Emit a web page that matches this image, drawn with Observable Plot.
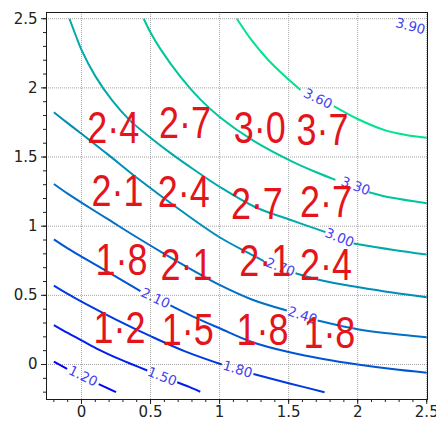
<!DOCTYPE html>
<html><head><meta charset="utf-8">
<script src="https://cdn.jsdelivr.net/npm/d3@7"></script>
<script src="https://cdn.jsdelivr.net/npm/@observablehq/plot@0.6"></script>
<style>body{margin:0;background:#fff}#chart{width:436px;height:423px}</style>
</head><body><div id="chart"></div>
<script>
// ---- data ----
const levels = [1.2, 1.5, 1.8, 2.1, 2.4, 2.7, 3.0, 3.3, 3.6, 3.9];
const levelText = ["1.20","1.50","1.80","2.10","2.40","2.70","3.00","3.30","3.60","3.90"];
// contour paths [x, y]; null = gap where the inline label sits
const c120 = [[-0.2,0.02],[-0.104,-0.031],null,[0.125,-0.142],[0.25,-0.2]];
const c150 = [[-0.2,0.285],[-0.1,0.228],[0,0.175],[0.125,0.108],[0.25,0.05],[0.37,0.0],[0.476,-0.043],null,[0.693,-0.128],[0.78,-0.162],[0.86,-0.197]];
const c180 = [[-0.2,0.57],[-0.1,0.51],[0,0.455],[0.25,0.325],[0.5,0.205],[0.75,0.095],[1.016,0.0],null,[1.245,-0.068],[1.5,-0.135],[1.76,-0.2]];
const c210 = [[-0.2,0.905],[-0.1,0.84],[0,0.78],[0.2,0.665],[0.427,0.53],null,[0.644,0.427],[0.8,0.35],[1.0,0.262],[1.233,0.163],[1.5,0.09],[1.75,0.04],[2.0,0.0],[2.25,-0.033],[2.5,-0.06]];
const c240 = [[-0.2,1.305],[-0.1,1.235],[0,1.17],[0.2,1.045],[0.4,0.92],[0.6,0.8],[0.8,0.685],[1.0,0.575],[1.233,0.47],[1.487,0.39],null,[1.71,0.318],[2.0,0.255],[2.25,0.222],[2.5,0.197]];
const c270 = [[-0.2,1.824],[-0.1,1.745],[0,1.668],[0.186,1.523],[0.427,1.33],[0.717,1.115],[1.0,0.92],[1.211,0.805],[1.32,0.748],null,[1.55,0.66],[1.75,0.605],[2.0,0.56],[2.25,0.52],[2.5,0.487]];
const c300 = [[-0.087,2.5],[-0.04,2.375],[0,2.275],[0.1,2.085],[0.222,1.909],[0.35,1.765],[0.5,1.64],[0.65,1.525],[0.813,1.41],[1.0,1.285],[1.26,1.137],[1.5,1.05],[1.767,0.957],null,[1.97,0.875],[2.25,0.83],[2.5,0.795]];
const c330 = [[0.451,2.5],[0.5,2.4],[0.572,2.28],[0.717,2.08],[0.862,1.915],[1.0,1.79],[1.25,1.615],[1.5,1.48],[1.7,1.39],[1.839,1.335],null,[2.08,1.246],[2.25,1.205],[2.5,1.166]];
const c360 = [[1.125,2.5],[1.233,2.343],[1.354,2.2],[1.5,2.06],[1.586,1.985],null,[1.827,1.868],[2.0,1.775],[2.2,1.693],[2.35,1.66],[2.5,1.639]];
const c390 = [[2.27,2.5],null,[2.5,2.44]];
const contours = [c120, c150, c180, c210, c240, c270, c300, c330, c360, c390];
// inline label centres
const labelX = [0.011, 0.584, 1.13, 0.536, 1.6, 1.44, 1.868, 1.984, 1.712, 2.382];
const labelY = [-0.085, -0.088, -0.036, 0.478, 0.354, 0.703, 0.916, 1.289, 1.921, 2.445];
// axes
const xTickValues = [0, 0.5, 1, 1.5, 2, 2.5];
const xTickLabels = ["0", "0.5", "1", "1.5", "2", "2.5"];
const yTickValues = [0, 0.5, 1, 1.5, 2, 2.5];
const yTickLabels = ["0", "0.5", "1", "1.5", "2", "2.5"];
// handwritten annotations (rows top to bottom)
const handTexts = [["2·4","2·7","3·0","3·7"],["2·1","2·4","2·7","2·7"],["1·8","2·1","2·1","2·4"],["1·2","1·5","1·8","1·8"]];
const handX = [[0.23,0.75,1.29,1.745],[0.26,0.74,1.27,1.77],[0.29,0.76,1.33,1.77],[0.275,0.77,1.31,1.795]];
const handY = [[1.70,1.74,1.70,1.69],[1.25,1.24,1.157,1.17],[0.75,0.71,0.74,0.715],[0.26,0.245,0.24,0.22]];

// ---- layout ----
const W = 436, H = 423, mL = 46, mR = 9, mT = 12, mB = 24;
const xDom = [-0.2534, 2.5055], yDom = [-0.253, 2.545];
const kx = (W - mL - mR) / (xDom[1] - xDom[0]);
const ky = (H - mT - mB) / (yDom[1] - yDom[0]);

function winter(t) { return d3.rgb(0, Math.round(255 * t), Math.round(255 * (1 - 0.5 * t))).formatHex(); }
const colorOf = l => winter((l - levels[0]) / (levels[levels.length - 1] - levels[0]));

const lineRows = [];
let seg = 0;
contours.forEach((pts, i) => {
  let run = [];
  const flush = () => { if (run.length > 1) run.forEach(p => lineRows.push({seg, color: colorOf(levels[i]), x: p[0], y: p[1]})); seg++; run = []; };
  pts.forEach(p => { if (p === null) flush(); else run.push(p); });
  flush();
});

function labelAngle(pts) {
  const k = pts.indexOf(null);
  const a = pts[k - 1], b = pts[k + 1];
  return Math.atan2(-(b[1] - a[1]) * ky, (b[0] - a[0]) * kx) * 180 / Math.PI;
}
const labelRows = levels.map((l, i) => ({x: labelX[i], y: labelY[i], text: levelText[i], angle: labelAngle(contours[i])}));

const handRows = [];
handTexts.forEach((row, r) => row.forEach((t, c) => handRows.push({x: handX[r][c], y: handY[r][c], text: t})));

const minorTicks = d3.range(-2, 26).map(i => i / 10);

const plot = Plot.plot({
  width: W, height: H,
  marginLeft: mL, marginRight: mR, marginTop: mT, marginBottom: mB,
  x: {domain: xDom, axis: null},
  y: {domain: yDom, axis: null},
  color: {type: "identity"},
  style: {fontFamily: "DejaVu Sans", fontSize: "15px", color: "#222", background: "#fff", overflow: "visible"},
  marks: [
    Plot.gridX(xTickValues, {stroke: "#9a9a9a", strokeOpacity: 1, strokeWidth: 0.9, strokeDasharray: "1,1"}),
    Plot.gridY(yTickValues, {stroke: "#9a9a9a", strokeOpacity: 1, strokeWidth: 0.9, strokeDasharray: "1,1"}),
    Plot.line(lineRows, {x: "x", y: "y", z: "seg", stroke: "color", strokeWidth: 2, curve: "catmull-rom", strokeLinecap: "butt", clip: true}),
    Plot.text(labelRows, {x: "x", y: "y", text: "text", rotate: "angle", fill: "#4343f2", fontSize: 13.5, fontFamily: "DejaVu Sans"}),
    Plot.text(handRows, {x: "x", y: "y", text: "text", fill: "#e3141c", fontSize: 44, fontFamily: "'Liberation Sans', sans-serif", lineAnchor: "middle", className: "hand"}),
    Plot.frame({stroke: "#1a1a1a", strokeWidth: 1}),
    Plot.axisX(minorTicks, {anchor: "bottom", tickSize: 3, tickFormat: () => "", label: null, stroke: "#222"}),
    Plot.axisX(xTickValues, {anchor: "bottom", tickSize: 5, tickPadding: 2, tickFormat: d => xTickLabels[xTickValues.indexOf(d)], label: null, stroke: "#222", fill: "#222", fontSize: 15}),
    Plot.axisY(minorTicks, {anchor: "left", tickSize: 3, tickFormat: () => "", label: null, stroke: "#222"}),
    Plot.axisY(yTickValues, {anchor: "left", tickSize: 5, tickPadding: 4, tickFormat: d => yTickLabels[yTickValues.indexOf(d)], label: null, stroke: "#222", fill: "#222", fontSize: 15})
  ]
});
// compress handwritten digits to their narrow hand-drawn width
d3.select(plot).selectAll("g.hand text").attr("textLength", 52).attr("lengthAdjust", "spacingAndGlyphs");
document.getElementById("chart").appendChild(plot);
</script>
</body></html>
